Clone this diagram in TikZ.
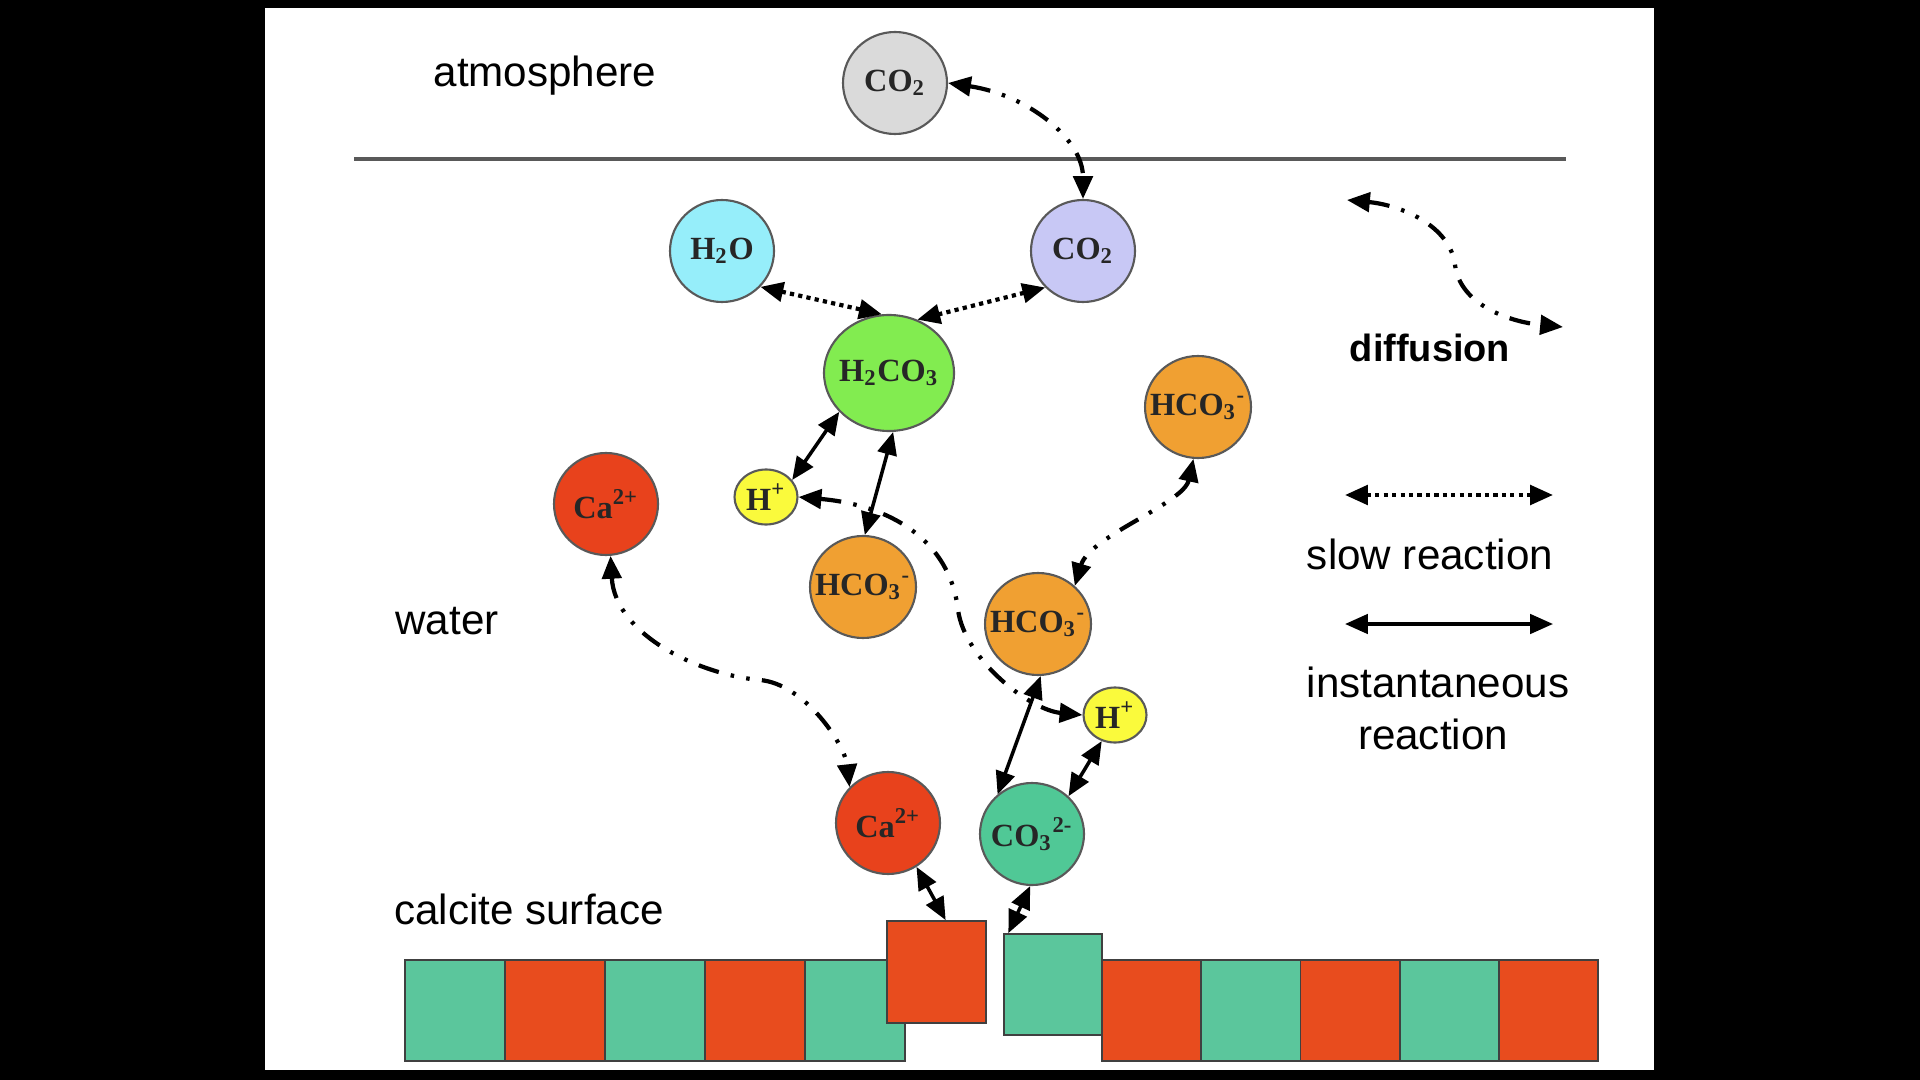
\documentclass[tikz,border=0pt]{standalone}
\usepackage{fontspec}
\setmainfont{Liberation Sans}
\newfontfamily\ionfont{Liberation Serif}
\usetikzlibrary{arrows.meta,shapes.geometric}

\definecolor{calred}{RGB}{232,76,30}
\definecolor{calteal}{RGB}{91,198,156}
\definecolor{airgray}{RGB}{218,218,218}
\definecolor{watercyan}{RGB}{150,238,250}
\definecolor{gaslilac}{RGB}{200,200,245}
\definecolor{acidgreen}{RGB}{130,236,80}
\definecolor{bicarb}{RGB}{240,160,50}
\definecolor{calcium}{RGB}{232,66,28}
\definecolor{hyellow}{RGB}{250,250,60}
\definecolor{carbteal}{RGB}{80,200,150}

\tikzset{
  ion/.style={ellipse, draw=black!65, line width=0.6pt,
    inner xsep=-3pt, inner ysep=0pt,
    minimum width=1.04cm, minimum height=1.02cm, text=black!85,
    font=\ionfont\bfseries\fontsize{9.2}{11}\selectfont},
  hion/.style={ion, fill=hyellow, minimum width=0.63cm, minimum height=0.55cm},
  region/.style={anchor=base, font=\fontsize{12}{14}\selectfont},
  fastrx/.style={>={Triangle[length=6.5pt,width=5.5pt]}, <->, line width=1pt},
  slowrx/.style={fastrx, line width=1.2pt, dash pattern=on 1.2pt off 1.2pt},
  diffuse/.style={fastrx, line width=1.2pt,
    dash pattern=on 6pt off 3.5pt on 1pt off 3.5pt on 1pt off 3.5pt},
  tile/.style={draw=black!75, line width=0.5pt},
}

\begin{document}
\begin{tikzpicture}
  \useasboundingbox (0,0) rectangle (19.2,-10.8);
  \fill[black] (0,0) rectangle (19.2,-10.8);
  \fill[white] (2.65,-0.08) rectangle (16.54,-10.70);

  % air / water boundary
  \draw[black!65, line width=0.9pt] (3.54,-1.59) -- (15.66,-1.59);

  \node[region] (atm) at (5.45,-0.87) {atmosphere};
  \node[region] (wat) at (4.47,-6.34) {water};
  \node[region] (surf) at (5.29,-9.24) {calcite surface};

  % species
  \node[ion, fill=airgray] (co2air) at (8.95,-0.83) {CO\textsubscript{2}};
  \node[ion, fill=watercyan] (h2o) at (7.22,-2.51) {H\textsubscript{2}O};
  \node[ion, fill=gaslilac] (co2aq) at (10.83,-2.51) {CO\textsubscript{2}};
  \node[ion, fill=acidgreen, minimum width=1.3cm, minimum height=1.16cm] (h2co3) at (8.89,-3.73) {H\textsubscript{2}CO\textsubscript{3}};
  \node[ion, fill=bicarb] (hco3a) at (11.98,-4.07) {HCO\textsubscript{3}\textsuperscript{-}};
  \node[ion, fill=calcium] (ca1) at (6.06,-5.04) {Ca\textsuperscript{2+}};
  \node[hion] (hplusa) at (7.66,-4.97) {H\textsuperscript{+}};
  \node[ion, fill=bicarb] (hco3b) at (8.63,-5.87) {HCO\textsubscript{3}\textsuperscript{-}};
  \node[ion, fill=bicarb] (hco3c) at (10.38,-6.24) {HCO\textsubscript{3}\textsuperscript{-}};
  \node[hion] (hplusb) at (11.15,-7.15) {H\textsuperscript{+}};
  \node[ion, fill=calcium] (ca2) at (8.88,-8.23) {Ca\textsuperscript{2+}};
  \node[ion, fill=carbteal] (co3) at (10.32,-8.34) {CO\textsubscript{3}\textsuperscript{2-}};

  % calcite surface
  \foreach \i/\c in {0/calteal,1/calred,2/calteal,3/calred,4/calteal}
    \draw[tile, fill=\c] (4.05+\i,-9.6) rectangle ++(1,-1.01);
  \node[tile, fill=calred, minimum width=0.99cm, minimum height=1.02cm] (redup) at (9.365,-9.72) {};
  \node[tile, fill=calteal, minimum width=0.98cm, minimum height=1.01cm] (tealup) at (10.53,-9.845) {};
  \foreach \i/\c in {0/calred,1/calteal,2/calred,3/calteal,4/calred}
    \draw[tile, fill=\c] (11.02+0.992*\i,-9.6) rectangle ++(0.992,-1.01);

  % reactions
  \draw[diffuse] (co2air.east) .. controls +(0.8,-0.12) and +(0,0.6) .. (co2aq.north);
  \draw[slowrx] (h2o.-43) -- (h2co3.97);
  \draw[slowrx] (co2aq.-136) -- (h2co3.62);
  \draw[fastrx] (h2co3.218) -- (hplusa.33);
  \draw[fastrx] (h2co3.-86) -- (hco3b.88);
  \draw[diffuse] (hco3a.-95) .. controls +(-0.1,-0.45) and +(0.15,0.5) .. (hco3c.46);
  \draw[diffuse] (hplusa.east) .. controls (8.9,-5.05) and (9.5,-5.4) .. (9.58,-6.1)
    .. controls (9.65,-6.6) and (10.3,-7.1) .. (hplusb.west);
  \draw[diffuse] (ca1.-85) .. controls (6.15,-6.35) and (7.0,-6.75) .. (7.6,-6.8)
    .. controls (8.05,-6.84) and (8.45,-7.45) .. (ca2.137);
  \draw[fastrx] (hco3c.-87) -- (co3.131);
  \draw[fastrx] (hplusb.243) -- (co3.46);
  \draw[fastrx] (ca2.-57) -- (redup.80);
  \draw[fastrx] (co3.-92) -- (tealup.131);

  % legend
  \coordinate (difA) at (13.47,-2.0);
  \coordinate (difB) at (15.63,-3.27);
  \draw[diffuse] (difA) .. controls (14.0,-2.05) and (14.5,-2.25) .. (14.55,-2.65)
    .. controls (14.6,-3.05) and (15.1,-3.22) .. (difB);
  \node[region, font=\bfseries\fontsize{10.8}{13}\selectfont] (difftxt) at (14.30,-3.62) {diffusion};

  \coordinate (slowA) at (13.45,-4.95);
  \coordinate (slowB) at (15.53,-4.95);
  \draw[slowrx] (slowA) -- (slowB);
  \node[region] (slowtxt) at (14.30,-5.69) {slow reaction};

  \coordinate (fastA) at (13.45,-6.24);
  \coordinate (fastB) at (15.53,-6.24);
  \draw[fastrx] (fastA) -- (fastB);
  \node[region] (insttxt) at (14.38,-6.97) {instantaneous};
  \node[region] (insttxtb) at (14.33,-7.49) {reaction};
\end{tikzpicture}
\end{document}
